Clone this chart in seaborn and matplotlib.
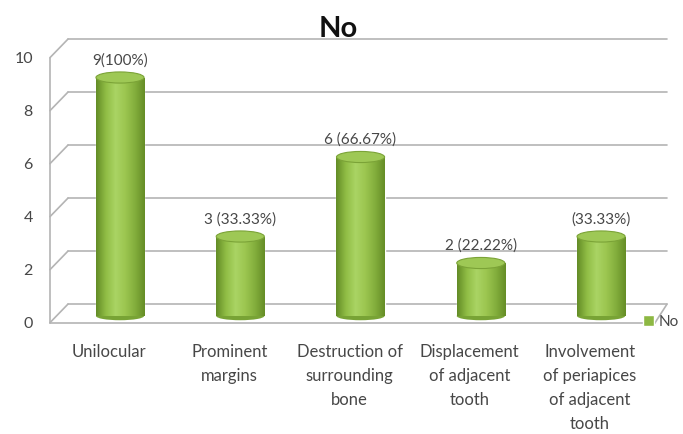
import numpy as np
import matplotlib
matplotlib.use("Agg")
import matplotlib.pyplot as plt
import seaborn as sns
from matplotlib.patches import Ellipse, Patch
from matplotlib.colors import LinearSegmentedColormap
from matplotlib.transforms import ScaledTranslation

# datos
categorias = ["Unilocular", "Prominent\nmargins", "Destruction of\nsurrounding\nbone",
              "Displacement\nof adjacent\ntooth", "Involvement\nof periapices\nof adjacent\ntooth"]
valores = [9, 3, 6, 2, 3]
etiquetas = ["9(100%)", "3 (33.33%)", "6 (66.67%)", "2 (22.22%)", "(33.33%)"]
yticks = [0, 2, 4, 6, 8, 10]

sns.set_style("white")
plt.rcParams["font.family"] = ["Lato", "DejaVu Sans"]

fig = plt.figure(figsize=(6.83, 4.34), dpi=100)
# ejes: x 50..660 px, y 0 -> 316 px, 10 -> 51 px
ax = fig.add_axes([50 / 683, 118 / 434, 610 / 683, 265 / 434])

verde = "#8cb842"
sns.barplot(x=list(range(len(valores))), y=valores, color=verde, width=0.4,
            saturation=1, ax=ax, zorder=3)

# gradiente tipo cilindro
cmap = LinearSegmentedColormap.from_list(
    "cil", ["#638c26", "#90bd45", "#aad464", "#9cc650", "#83ae3c", "#658d27"])
grad = np.linspace(0, 1, 128).reshape(1, -1)
gris = "#b4b4b4"
texto = "#474747"

for i, p in enumerate(ax.patches[:len(valores)]):
    x0, w, h = p.get_x(), p.get_width(), p.get_height()
    cx = x0 + w / 2
    # base redondeada
    base = Ellipse((cx, 0), w, 0.32, facecolor="#78a335", edgecolor="none",
                   zorder=2.9, clip_on=False)
    ax.add_patch(base)
    im = ax.imshow(grad, cmap=cmap, extent=[x0, x0 + w, 0, h], aspect="auto", zorder=3.1)
    im.set_clip_path(p)
    tapa = Ellipse((cx, h), w, 0.42, facecolor="#9ec855", edgecolor="#7ba337",
                   lw=0.8, zorder=3.5)
    ax.add_patch(tapa)
    ax.annotate(etiquetas[i], (cx, h), xytext=(0, 12.5), textcoords="offset points",
                ha="center", va="center", fontsize=11, color=texto, zorder=5)

# paredes 3D
tr = ax.get_yaxis_transform()
for v in yticks:
    ax.plot([0.0295, 1.0115], [v + 0.45, v + 0.45], color=gris, lw=1.2,
            transform=tr, clip_on=False, zorder=1)
    ax.plot([0.0, 0.0295], [v - 0.25, v + 0.45], color=gris, lw=1.2,
            transform=tr, clip_on=False, zorder=1)
    ax.text(-0.028, v - 0.3, str(v), transform=tr, ha="right", va="center",
            fontsize=11.5, color=texto)
ax.plot([0, 0], [-0.25, 9.75], color=gris, lw=1.2, transform=tr, clip_on=False, zorder=1)
ax.plot([0, 0.992], [-0.25, -0.25], color=gris, lw=1.2, transform=tr, clip_on=False, zorder=1)
ax.plot([0.992, 1.0115], [-0.25, 0.45], color=gris, lw=1.2, transform=tr, clip_on=False, zorder=1)

ax.set_xlim(-0.582, 4.49)
ax.set_ylim(0, 10)
ax.set_yticks([])
ax.set_xticks(range(len(categorias)))
ax.set_xticklabels(categorias, fontsize=12, color=texto, linespacing=1.62)
ax.tick_params(axis="x", length=0, pad=20)
for lab in ax.get_xticklabels():
    lab.set_transform(lab.get_transform() + ScaledTranslation(-0.11, 0, fig.dpi_scale_trans))
ax.set_xlabel("")
sns.despine(ax=ax, left=True, bottom=True)

fig.text(338 / 683, 1 - 29 / 434, "No", fontsize=21, fontweight="bold",
         ha="center", va="center", color="#111111")

ax.legend(handles=[Patch(facecolor="#8db843")], labels=["No"], loc="center left",
          bbox_to_anchor=(643 / 683, 1 - 322 / 434), bbox_transform=fig.transFigure,
          frameon=False, handlelength=0.7, handleheight=0.7, handletextpad=0.3,
          borderpad=0, borderaxespad=0, fontsize=11, labelcolor=texto)

fig.savefig("out.png", dpi=100, facecolor="white")
